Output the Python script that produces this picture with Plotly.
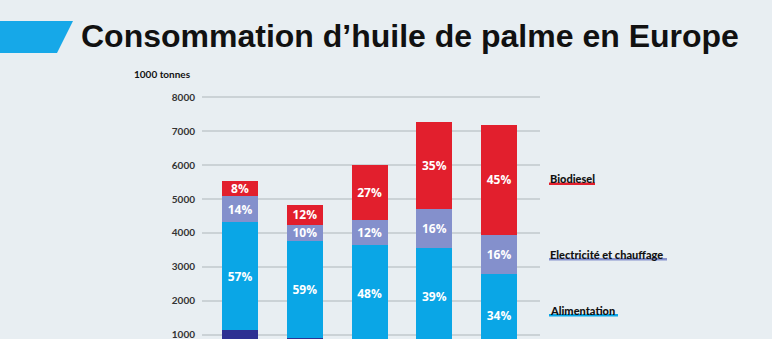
import plotly.graph_objects as go

# ---- data (1000 tonnes) ----
years = ["A", "B", "C", "D", "E"]  # category labels are cropped out of the reference
autres = [1160, 910, 780, 730, 360]
alimentation = [3150, 2850, 2880, 2830, 2440]
electricite = [780, 480, 720, 1160, 1150]
biodiesel = [440, 580, 1620, 2540, 3230]
pct_alimentation = [57, 59, 48, 39, 34]
pct_electricite = [14, 10, 12, 16, 16]
pct_biodiesel = [8, 12, 27, 35, 45]
tick_vals = [1000, 2000, 3000, 4000, 5000, 6000, 7000, 8000]

BG = "#E8EEF2"
C_DARK = "#2E3192"
C_BLUE = "#0AA6E6"
C_VIOLET = "#8490CC"
C_RED = "#E21F2D"

W, H = 772, 339
L, R, T, B = 202, 232, 90, 0
PW, PH = W - L - R, H - T - B


def px_x(px):
    return (px - L) / PW


def px_y(py):
    return (H - B - py) / PH


fig = go.Figure()
lab_font = dict(family="Open Sans", size=12, color="white", weight=700)


def add(vals, color, name, pcts=None):
    fig.add_trace(go.Bar(
        x=years, y=vals, name=name, marker=dict(color=color, line=dict(width=0)),
        text=[f"{p}%" for p in pcts] if pcts else None,
        textposition="inside" if pcts else "none",
        insidetextanchor="middle", textangle=0, constraintext="none",
        insidetextfont=lab_font, hoverinfo="skip",
    ))


add(autres, C_DARK, "Autres")
add(alimentation, C_BLUE, "Alimentation", pct_alimentation)
add(electricite, C_VIOLET, "Electricité et chauffage", pct_electricite)
add(biodiesel, C_RED, "Biodiesel", pct_biodiesel)

fig.update_layout(
    width=W, height=H, margin=dict(l=L, r=R, t=T, b=B, pad=0),
    paper_bgcolor=BG, plot_bgcolor=BG, barmode="stack", bargap=0.444,
    showlegend=False, font=dict(family="Lato"),
)
fig.update_xaxes(range=[-0.587, 4.633], showticklabels=False, showgrid=False,
                 zeroline=False, showline=False, ticks="")
fig.update_yaxes(range=[882, 8206], tickvals=tick_vals, ticktext=[str(v) for v in tick_vals],
                 showgrid=True, gridcolor="#CBD2D6", gridwidth=1.5, zeroline=False,
                 showline=False, ticks="", ticklabelstandoff=6, ticklabeloverflow="allow",
                 tickfont=dict(family="Lato", size=10, color="#333333", weight=700))

# title and decorations
fig.add_shape(type="path", xref="paper", yref="paper", layer="above",
              path=f"M {px_x(-5)} {px_y(21)} L {px_x(73)} {px_y(21)} L {px_x(57)} {px_y(53)} L {px_x(-5)} {px_y(53)} Z",
              fillcolor="#16A8E8", line=dict(width=0))
fig.add_annotation(text="Consommation d’huile de palme en Europe", xref="paper", yref="paper",
                   x=px_x(79), y=px_y(36), xanchor="left", yanchor="middle", showarrow=False,
                   font=dict(family="Liberation Sans", size=32, color="#111111", weight=700))
fig.add_annotation(text="1000 tonnes", xref="paper", yref="paper",
                   x=px_x(132), y=px_y(74), xanchor="left", yanchor="middle", showarrow=False,
                   font=dict(family="Lato", size=10, color="#111111", weight=700))

# right-side labels at mid-height of the last bar's segments
last = len(years) - 1
b0 = autres[last]
b1 = b0 + alimentation[last]
b2 = b1 + electricite[last]
b3 = b2 + biodiesel[last]
labels = [
    ("Biodiesel", (b2 + b3) / 2, C_RED, 46, 1),
    ("Electricité et chauffage", (b1 + b2) / 2, C_VIOLET, 118, 0),
    ("Alimentation", (b0 + b1) / 2, C_BLUE, 69, 5),
]
for txt, yv, col, wpx, ysh in labels:
    fig.add_shape(type="line", xref="paper", yref="y", ysizemode="pixel", yanchor=yv,
                  x0=px_x(549), x1=px_x(549 + wpx), y0=-5 + ysh, y1=-5 + ysh,
                  line=dict(color=col, width=2.5), layer="below")
    fig.add_annotation(text=txt, xref="paper", yref="y", x=px_x(548), y=yv, yshift=ysh,
                       xanchor="left", yanchor="middle", showarrow=False,
                       font=dict(family="Lato", size=11, color="#111111", weight=900))

fig.write_html("out.html")
